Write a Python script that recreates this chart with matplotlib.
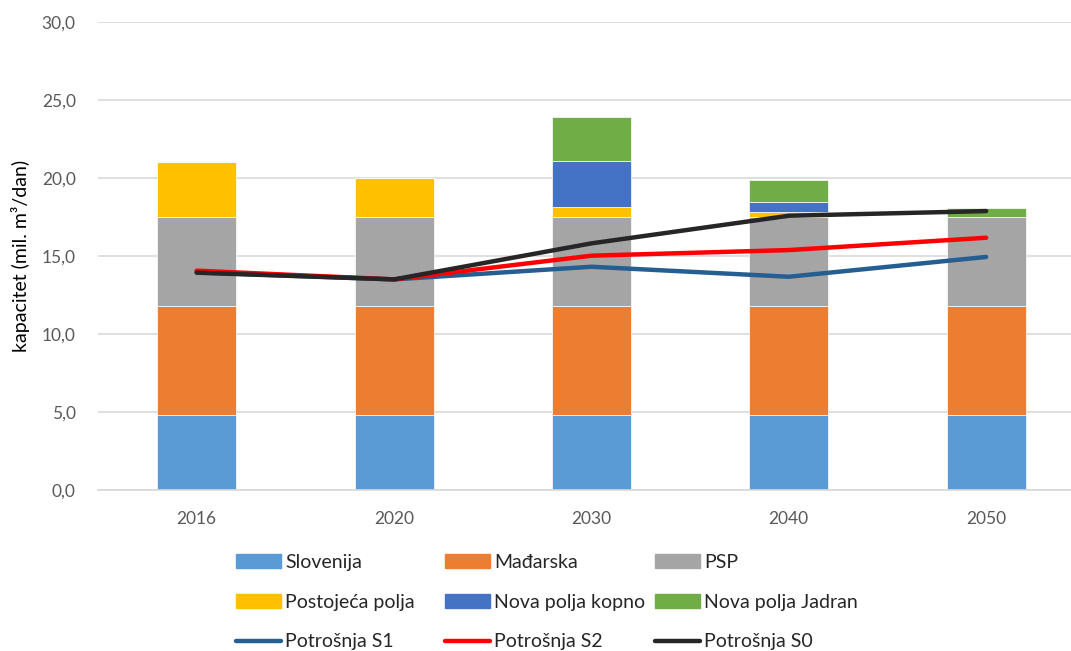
import numpy as np
import matplotlib
matplotlib.use('Agg')
import matplotlib.pyplot as plt
from matplotlib.patches import Patch
from matplotlib.lines import Line2D

plt.rcParams['font.family'] = ['Lato', 'DejaVu Sans']

# podaci
godine = ['2016', '2020', '2030', '2040', '2050']
slovenija = [4.8, 4.8, 4.8, 4.8, 4.8]
madjarska = [7.0, 7.0, 7.0, 7.0, 7.0]
psp = [5.7, 5.7, 5.7, 5.7, 5.7]
postojeca = [3.5, 2.5, 0.65, 0.32, 0.0]
nova_kopno = [0.0, 0.0, 2.95, 0.66, 0.0]
nova_jadran = [0.0, 0.0, 2.84, 1.37, 0.58]
potrosnja_s1 = [13.95, 13.5, 14.31, 13.67, 14.94]
potrosnja_s2 = [14.06, 13.5, 15.02, 15.38, 16.17]
potrosnja_s0 = [13.93, 13.5, 15.81, 17.58, 17.88]

stupci = [
    ('Slovenija', slovenija, '#5B9BD5'),
    ('Mađarska', madjarska, '#ED7D31'),
    ('PSP', psp, '#A5A5A5'),
    ('Postojeća polja', postojeca, '#FFC000'),
    ('Nova polja kopno', nova_kopno, '#4472C4'),
    ('Nova polja Jadran', nova_jadran, '#70AD47'),
]
linije = [
    ('Potrošnja S1', potrosnja_s1, '#255E91'),
    ('Potrošnja S2', potrosnja_s2, '#FF0000'),
    ('Potrošnja S0', potrosnja_s0, '#262626'),
]

W, H = 1071, 651
fig = plt.figure(figsize=(W / 100, H / 100), dpi=100)
ax = fig.add_axes([98 / W, (H - 490) / H, (W - 98) / W, 468 / H])

x = np.arange(len(godine))
dno = np.zeros(len(godine))
for ime, vals, boja in stupci:
    vals = np.array(vals)
    ax.bar(x, vals, 0.4, bottom=dno, color=boja, edgecolor='white', linewidth=0.5, zorder=2)
    dno += vals

for ime, vals, boja in linije:
    ax.plot(x, vals, color=boja, linewidth=3.2, solid_capstyle='round', solid_joinstyle='round', zorder=3)

ax.set_xlim(-0.5, 4.43)
ax.set_ylim(0, 30)
ax.set_yticks(np.arange(0, 31, 5))
ax.set_yticklabels([('%.1f' % v).replace('.', ',') for v in np.arange(0, 31, 5)])
ax.set_xticks(x)
ax.set_xticklabels(godine)
ax.tick_params(axis='both', length=0, labelsize=12.5, labelcolor='#595959')
ax.tick_params(axis='y', pad=16)
ax.tick_params(axis='x', pad=15)
ax.yaxis.grid(True, color='#D9D9D9', linewidth=1.2, zorder=0)
ax.set_axisbelow(True)
for s in ['top', 'right', 'left']:
    ax.spines[s].set_visible(False)
ax.spines['bottom'].set_color('#D9D9D9')
ax.spines['bottom'].set_linewidth(1.2)
ax.set_ylabel('kapacitet (mil. m³/dan)', fontsize=14, color='black')
ax.yaxis.set_label_coords(-68 / (W - 98), 0.5)

# legenda - tri stupca
ruke = [Patch(color=b) for _, _, b in stupci] + \
       [Line2D([0], [0], color=b, linewidth=3.2, solid_capstyle='round') for _, _, b in linije]
imena = [i for i, _, _ in stupci] + [i for i, _, _ in linije]
kolone_x = [236, 445, 655]
for k in range(3):
    idx = [k, k + 3, k + 6]
    leg = fig.legend([ruke[i] for i in idx], [imena[i] for i in idx],
                     loc='upper left', bbox_to_anchor=(kolone_x[k] / W, 1 - 554 / H),
                     frameon=False, fontsize=14, handlelength=2.32, handleheight=0.7,
                     handletextpad=0.2, labelspacing=1.17, borderpad=0, borderaxespad=0)
    for t in leg.get_texts():
        t.set_color('#262626')

fig.savefig('out.png', dpi=100)
